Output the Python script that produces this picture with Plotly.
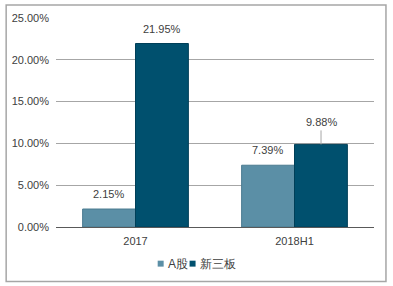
import plotly.graph_objects as go

categories = ["2017", "2018H1"]
a_values = [2.15, 7.39]
x3_values = [21.95, 9.88]
series_names = ["A股", "新三板"]
tick_vals = [0, 5, 10, 15, 20, 25]
tick_text = ["0.00%", "5.00%", "10.00%", "15.00%", "20.00%", "25.00%"]

W, H = 393, 286
L, R, T, B = 55, 19, 16, 59
pw, ph = W - L - R, H - T - B

FONT = "Liberation Sans, Arial, sans-serif"
TXT = "#404040"
COLORS = ["#5B8FA6", "#00506E"]
EDGES = ["#4A7A90", "#003F58"]
BARGAP = 0.335

fig = go.Figure()
for name, vals, c, e in zip(series_names, [a_values, x3_values], COLORS, EDGES):
    fig.add_trace(go.Bar(
        x=categories, y=vals, name=name,
        marker=dict(color=c, line=dict(color=e, width=1)),
        showlegend=False,
    ))

# bar center offset in px (half of a bar width)
off = pw / len(categories) * (1 - BARGAP) / 4

for i, cat in enumerate(categories):
    for s, vals in enumerate([a_values, x3_values]):
        shift = -off if s == 0 else off
        callout = (s == 1 and i == 1)
        fig.add_annotation(
            x=i, y=vals[i], xref="x", yref="y",  # category index on the category axis
            text=f"{vals[i]:.2f}%",
            showarrow=callout, arrowhead=0, arrowcolor="#A6A6A6", arrowwidth=1,
            ax=0, ay=-14, standoff=0,
            xshift=shift, yshift=0 if callout else 7,
            yanchor="bottom",
            font=dict(size=11, color=TXT, family=FONT),
        )

# manual compact legend (squares + text) centered at y=264
ly = (H - B - 264) / ph
sq = 6
items = [(157, series_names[0]), (189, series_names[1])]
for (px, name), c in zip(items, COLORS):
    fig.add_shape(type="rect", xref="paper", yref="paper",
                  x0=(px - L) / pw, x1=(px + sq - L) / pw,
                  y0=ly - sq / 2 / ph, y1=ly + sq / 2 / ph,
                  fillcolor=c, line=dict(width=0))
    fig.add_annotation(x=(px + sq + 2 - L) / pw, y=ly, xref="paper", yref="paper",
                       text=name, showarrow=False, xanchor="left", yanchor="middle",
                       font=dict(size=12, color=TXT, family=FONT))

# outer border
fig.add_shape(type="rect", xref="paper", yref="paper",
              x0=(5 - L) / pw, x1=(386 - L) / pw,
              y0=(H - B - 282) / ph, y1=(H - B - 3) / ph,
              line=dict(color="#A6A6A6", width=1.5), fillcolor="rgba(0,0,0,0)")

fig.update_layout(
    width=W, height=H,
    margin=dict(l=L, r=R, t=T, b=B),
    paper_bgcolor="white", plot_bgcolor="white",
    barmode="group", bargap=BARGAP, bargroupgap=0,
    showlegend=False,
    font=dict(family=FONT, color=TXT),
    xaxis=dict(type="category", categoryorder="array", categoryarray=categories,
               range=[-0.5, len(categories) - 0.5],
               showgrid=False, showline=True, linecolor="#595959", linewidth=1,
               ticks="", ticklabelstandoff=4,
               tickfont=dict(size=11, color=TXT, family=FONT)),
    yaxis=dict(range=[0, 25], tickvals=tick_vals, ticktext=tick_text,
               showgrid=True, gridcolor="#A6A6A6", gridwidth=1,
               zeroline=False, showline=False, ticks="",
               tickfont=dict(size=11, color=TXT, family=FONT), ticklabelstandoff=6),
)

fig.write_html("out.html")
